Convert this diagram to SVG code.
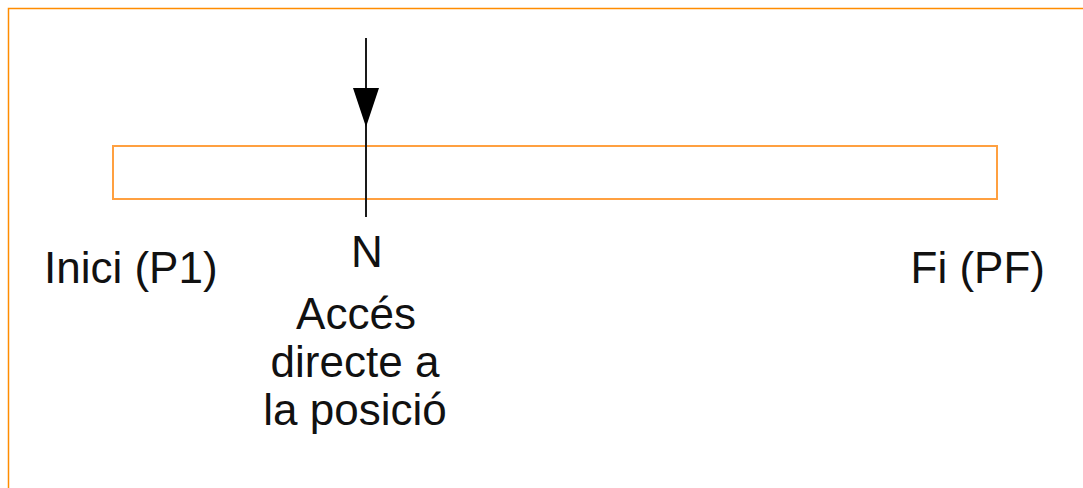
<svg xmlns="http://www.w3.org/2000/svg" width="1083" height="488" viewBox="0 0 1083 488">
  <style>
    .frame { fill: none; stroke: #ff8c00; stroke-width: 1.5; }
    .bar { fill: #ffffff; stroke: #ffa040; stroke-width: 2; }
    .pointer { stroke: #1a1a1a; stroke-width: 2; fill: none; }
    .head { fill: #000000; }
    .label { font-family: "Liberation Sans", Arial, sans-serif; font-size: 44px; fill: #111111; }
  </style>
  <rect width="1083" height="488" fill="#ffffff"/>
  <!-- page frame, open at right and bottom -->
  <path class="frame" d="M8.5,488 V8.5 H1083"/>

  <g id="bar">
    <rect class="bar" x="113" y="146" width="884" height="53"/>
  </g>

  <g id="connectors">
    <line class="pointer" x1="366" y1="38" x2="366" y2="217"/>
    <path class="head" d="M353,88 L379,88 L366,127 Z"/>
  </g>

  <g id="label-start">
    <text class="label" x="44" y="283">Inici (P1)</text>
  </g>
  <g id="label-n">
    <text class="label" x="367" y="267" text-anchor="middle">N</text>
  </g>
  <g id="label-access">
    <text class="label" x="356" y="329" text-anchor="middle">Accés</text>
    <text class="label" x="355" y="377" text-anchor="middle">directe a</text>
    <text class="label" x="355" y="425" text-anchor="middle">la posició</text>
  </g>
  <g id="label-end">
    <text class="label" x="1045" y="283" text-anchor="end">Fi (PF)</text>
  </g>
</svg>
